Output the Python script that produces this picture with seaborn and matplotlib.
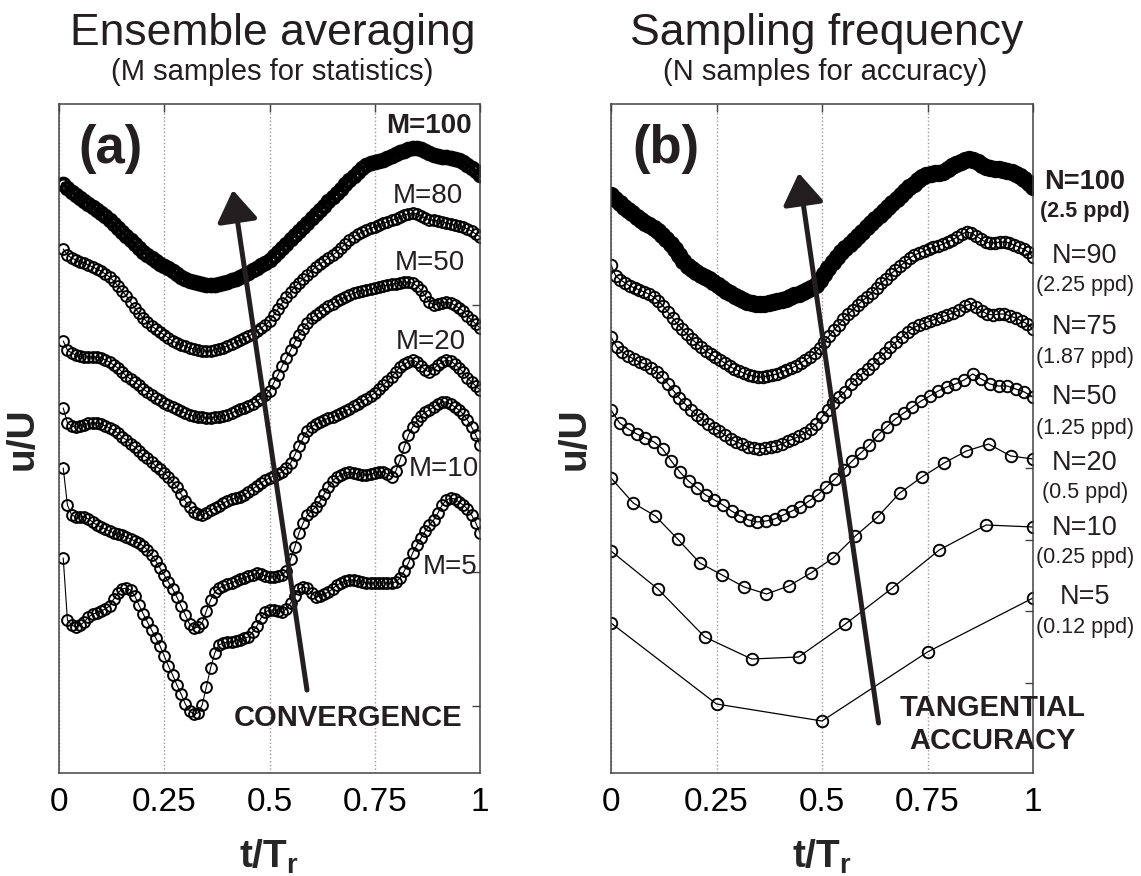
import numpy as np
import pandas as pd
import seaborn as sns
import matplotlib.pyplot as plt

sns.set_style("white")
plt.rcParams['font.family'] = ['Liberation Sans', 'DejaVu Sans']
plt.rcParams['mathtext.fontset'] = 'custom'
plt.rcParams['mathtext.rm'] = 'Liberation Sans'
plt.rcParams['mathtext.bf'] = 'Liberation Sans:bold'

INK = '#231f20'

# ---- (a) ensemble averaging: 100 samples over one period, curves stacked ----
t_ens = np.arange(1, 101) / 100

u_M100 = [5.89, 5.85, 5.81, 5.78, 5.75, 5.72, 5.69, 5.66, 5.63, 5.60,
          5.57, 5.53, 5.49, 5.45, 5.41, 5.37, 5.33, 5.29, 5.25, 5.21,
          5.18, 5.15, 5.12, 5.09, 5.07, 5.05, 5.02, 4.99, 4.96, 4.94,
          4.92, 4.91, 4.90, 4.89, 4.88, 4.88, 4.88, 4.89, 4.90, 4.91,
          4.93, 4.94, 4.96, 4.98, 5.00, 5.03, 5.05, 5.08, 5.10, 5.13,
          5.17, 5.21, 5.25, 5.29, 5.34, 5.38, 5.42, 5.46, 5.50, 5.55,
          5.59, 5.63, 5.67, 5.72, 5.76, 5.80, 5.84, 5.89, 5.93, 5.97,
          6.01, 6.05, 6.08, 6.10, 6.11, 6.12, 6.13, 6.15, 6.17, 6.19,
          6.21, 6.22, 6.24, 6.25, 6.25, 6.24, 6.22, 6.20, 6.18, 6.17,
          6.16, 6.16, 6.15, 6.14, 6.13, 6.11, 6.08, 6.05, 6.02, 5.98]

u_M80 = [5.24, 5.18, 5.15, 5.13, 5.11, 5.10, 5.08, 5.06, 5.04, 5.02,
         4.99, 4.96, 4.92, 4.87, 4.82, 4.77, 4.71, 4.65, 4.60, 4.55,
         4.51, 4.47, 4.44, 4.41, 4.38, 4.35, 4.32, 4.30, 4.28, 4.27,
         4.25, 4.24, 4.23, 4.22, 4.22, 4.22, 4.23, 4.24, 4.25, 4.27,
         4.29, 4.31, 4.33, 4.35, 4.37, 4.39, 4.42, 4.45, 4.48, 4.52,
         4.58, 4.64, 4.70, 4.76, 4.81, 4.86, 4.90, 4.94, 4.98, 5.02,
         5.06, 5.09, 5.12, 5.15, 5.18, 5.21, 5.25, 5.29, 5.33, 5.36,
         5.39, 5.41, 5.43, 5.45, 5.46, 5.48, 5.50, 5.51, 5.53, 5.54,
         5.56, 5.58, 5.59, 5.60, 5.59, 5.57, 5.55, 5.53, 5.53, 5.52,
         5.51, 5.50, 5.49, 5.48, 5.47, 5.46, 5.44, 5.42, 5.39, 5.36]

u_M50 = [4.32, 4.23, 4.20, 4.18, 4.17, 4.16, 4.16, 4.16, 4.16, 4.15,
         4.13, 4.11, 4.08, 4.05, 4.01, 3.97, 3.94, 3.91, 3.88, 3.84,
         3.81, 3.78, 3.75, 3.73, 3.70, 3.68, 3.66, 3.64, 3.62, 3.60,
         3.58, 3.57, 3.56, 3.56, 3.55, 3.55, 3.56, 3.56, 3.57, 3.58,
         3.60, 3.62, 3.64, 3.65, 3.67, 3.69, 3.72, 3.75, 3.78, 3.82,
         3.90, 3.98, 4.07, 4.15, 4.23, 4.31, 4.38, 4.44, 4.50, 4.55,
         4.58, 4.61, 4.64, 4.67, 4.69, 4.72, 4.74, 4.76, 4.78, 4.80,
         4.81, 4.82, 4.83, 4.84, 4.85, 4.86, 4.87, 4.88, 4.89, 4.89,
         4.90, 4.91, 4.91, 4.90, 4.87, 4.83, 4.77, 4.71, 4.68, 4.69,
         4.70, 4.71, 4.70, 4.68, 4.65, 4.62, 4.57, 4.53, 4.49, 4.45]

u_M20 = [3.65, 3.50, 3.47, 3.46, 3.47, 3.48, 3.50, 3.50, 3.50, 3.49,
         3.47, 3.45, 3.43, 3.40, 3.36, 3.33, 3.29, 3.26, 3.22, 3.18,
         3.15, 3.11, 3.07, 3.04, 3.00, 2.96, 2.91, 2.86, 2.79, 2.72,
         2.66, 2.61, 2.59, 2.58, 2.60, 2.63, 2.65, 2.67, 2.70, 2.72,
         2.74, 2.75, 2.76, 2.78, 2.81, 2.84, 2.87, 2.90, 2.93, 2.95,
         2.97, 2.99, 3.01, 3.05, 3.10, 3.18, 3.27, 3.35, 3.42, 3.46,
         3.49, 3.51, 3.53, 3.55, 3.56, 3.58, 3.60, 3.62, 3.64, 3.67,
         3.69, 3.72, 3.74, 3.77, 3.80, 3.84, 3.88, 3.92, 3.96, 4.01,
         4.06, 4.09, 4.11, 4.13, 4.11, 4.07, 4.03, 4.01, 4.04, 4.08,
         4.11, 4.13, 4.12, 4.09, 4.05, 4.01, 3.95, 3.91, 3.87, 3.83]

u_M10 = [3.05, 2.68, 2.58, 2.56, 2.56, 2.56, 2.54, 2.51, 2.48, 2.46,
         2.44, 2.42, 2.40, 2.39, 2.38, 2.36, 2.34, 2.32, 2.30, 2.27,
         2.23, 2.18, 2.12, 2.05, 1.98, 1.91, 1.84, 1.76, 1.67, 1.58,
         1.49, 1.45, 1.46, 1.50, 1.62, 1.73, 1.81, 1.85, 1.87, 1.89,
         1.90, 1.92, 1.94, 1.95, 1.97, 1.98, 2.00, 1.99, 1.97, 1.96,
         1.96, 1.97, 1.98, 2.02, 2.14, 2.26, 2.40, 2.50, 2.58, 2.62,
         2.66, 2.72, 2.79, 2.86, 2.92, 2.96, 2.98, 3.00, 3.01, 3.00,
         2.99, 2.98, 2.98, 2.99, 3.00, 3.01, 3.01, 2.99, 2.96, 3.02,
         3.13, 3.26, 3.38, 3.46, 3.52, 3.57, 3.61, 3.63, 3.66, 3.69,
         3.71, 3.71, 3.69, 3.66, 3.63, 3.59, 3.53, 3.46, 3.38, 3.28]

u_M5 = [2.15, 1.53, 1.48, 1.46, 1.48, 1.51, 1.56, 1.59, 1.60, 1.62,
        1.64, 1.67, 1.74, 1.80, 1.84, 1.85, 1.83, 1.77, 1.68, 1.59,
        1.51, 1.43, 1.35, 1.27, 1.17, 1.07, 0.98, 0.88, 0.79, 0.69,
        0.62, 0.59, 0.60, 0.68, 0.86, 1.05, 1.20, 1.28, 1.30, 1.31,
        1.31, 1.32, 1.33, 1.35, 1.36, 1.41, 1.47, 1.55, 1.61, 1.63,
        1.63, 1.62, 1.61, 1.64, 1.70, 1.77, 1.84, 1.86, 1.85, 1.80,
        1.76, 1.77, 1.79, 1.81, 1.84, 1.88, 1.90, 1.92, 1.93, 1.93,
        1.92, 1.91, 1.90, 1.90, 1.90, 1.90, 1.90, 1.90, 1.90, 1.91,
        1.95, 2.02, 2.10, 2.20, 2.28, 2.35, 2.42, 2.48, 2.53, 2.60,
        2.68, 2.73, 2.75, 2.74, 2.71, 2.68, 2.64, 2.58, 2.50, 2.40]

M_labels = ['M=100', 'M=80', 'M=50', 'M=20', 'M=10', 'M=5']
M_label_x = [0.879, 0.876, 0.881, 0.884, 0.915, 0.929]
M_label_y = [6.47, 5.77, 5.10, 4.31, 3.04, 2.06]

# ---- (b) sampling frequency: N samples over one period ----
u_N100 = [5.78, 5.74, 5.70, 5.66, 5.63, 5.60, 5.56, 5.53, 5.50, 5.48,
          5.45, 5.42, 5.38, 5.34, 5.29, 5.24, 5.18, 5.12, 5.07, 5.04,
          5.01, 4.98, 4.96, 4.94, 4.91, 4.88, 4.85, 4.82, 4.80, 4.77,
          4.75, 4.73, 4.71, 4.70, 4.69, 4.69, 4.69, 4.70, 4.71, 4.72,
          4.73, 4.74, 4.76, 4.78, 4.79, 4.81, 4.83, 4.85, 4.88, 4.93,
          4.99, 5.05, 5.11, 5.16, 5.21, 5.25, 5.29, 5.33, 5.37, 5.41,
          5.46, 5.50, 5.54, 5.58, 5.62, 5.66, 5.70, 5.74, 5.78, 5.82,
          5.86, 5.89, 5.93, 5.96, 5.98, 5.99, 6.00, 6.00, 6.01, 6.04,
          6.07, 6.09, 6.11, 6.13, 6.14, 6.13, 6.11, 6.08, 6.06, 6.05,
          6.04, 6.04, 6.03, 6.02, 6.01, 5.99, 5.97, 5.94, 5.90, 5.86]

u_N90 = [5.08, 4.97, 4.93, 4.90, 4.87, 4.85, 4.83, 4.81, 4.79, 4.76,
         4.72, 4.67, 4.61, 4.55, 4.49, 4.44, 4.39, 4.34, 4.30, 4.26,
         4.22, 4.19, 4.16, 4.13, 4.10, 4.07, 4.04, 4.02, 4.00, 3.98,
         3.97, 3.96, 3.96, 3.97, 3.98, 3.99, 4.01, 4.03, 4.05, 4.07,
         4.10, 4.13, 4.16, 4.20, 4.25, 4.31, 4.37, 4.43, 4.48, 4.54,
         4.59, 4.63, 4.68, 4.72, 4.76, 4.80, 4.85, 4.90, 4.94, 4.99,
         5.03, 5.07, 5.11, 5.15, 5.18, 5.20, 5.22, 5.24, 5.26, 5.27,
         5.29, 5.31, 5.33, 5.36, 5.39, 5.41, 5.40, 5.37, 5.34, 5.31,
         5.30, 5.30, 5.31, 5.31, 5.30, 5.28, 5.26, 5.24, 5.21, 5.16]

u_N75 = [4.36, 4.26, 4.21, 4.17, 4.14, 4.11, 4.09, 4.05, 4.01, 3.96,
         3.89, 3.82, 3.75, 3.69, 3.63, 3.58, 3.54, 3.49, 3.45, 3.42,
         3.38, 3.34, 3.31, 3.29, 3.26, 3.25, 3.24, 3.25, 3.26, 3.27,
         3.29, 3.32, 3.34, 3.37, 3.40, 3.44, 3.49, 3.56, 3.63, 3.70,
         3.76, 3.81, 3.89, 3.94, 3.99, 4.04, 4.09, 4.15, 4.20, 4.26,
         4.31, 4.36, 4.41, 4.45, 4.48, 4.50, 4.52, 4.54, 4.56, 4.58,
         4.60, 4.63, 4.67, 4.69, 4.66, 4.62, 4.59, 4.58, 4.59, 4.59,
         4.57, 4.55, 4.52, 4.49, 4.44]

u_N50 = [3.63, 3.50, 3.44, 3.39, 3.35, 3.31, 3.24, 3.12, 3.01, 2.92,
         2.85, 2.78, 2.73, 2.68, 2.62, 2.57, 2.53, 2.51, 2.52, 2.54,
         2.58, 2.62, 2.66, 2.72, 2.78, 2.86, 2.94, 3.03, 3.12, 3.20,
         3.28, 3.38, 3.46, 3.54, 3.60, 3.66, 3.72, 3.77, 3.82, 3.86,
         3.89, 3.93, 3.99, 3.94, 3.89, 3.87, 3.87, 3.84, 3.81, 3.76]

u_N20 = [2.95, 2.70, 2.57, 2.34, 2.10, 1.98, 1.86, 1.79, 1.87, 2.00,
         2.15, 2.37, 2.56, 2.80, 2.96, 3.10, 3.22, 3.29, 3.17, 3.14]

u_N10 = [2.22, 1.84, 1.36, 1.14, 1.16, 1.49, 1.85, 2.23, 2.48, 2.46]

u_N5 = [1.50, 0.69, 0.52, 1.21, 1.75]

N_labels = ['N=100', 'N=90', 'N=75', 'N=50', 'N=20', 'N=10', 'N=5']
ppd_labels = ['(2.5 ppd)', '(2.25 ppd)', '(1.87 ppd)', '(1.25 ppd)',
              '(0.5 ppd)', '(0.25 ppd)', '(0.12 ppd)']
N_label_y = [5.91, 5.17, 4.46, 3.76, 3.10, 2.45, 1.76]
ppd_label_y = [5.61, 4.88, 4.16, 3.45, 2.81, 2.15, 1.46]

ens = pd.concat([pd.DataFrame({'t': t_ens, 'u': u, 'M': m})
                 for m, u in zip([100, 80, 50, 20, 10, 5],
                                 [u_M100, u_M80, u_M50, u_M20, u_M10, u_M5])])
smp = pd.concat([pd.DataFrame({'t': np.linspace(0, 1, len(u)), 'u': u, 'N': len(u)})
                 for u in [u_N100, u_N90, u_N75, u_N50, u_N20, u_N10, u_N5]])

fig = plt.figure(figsize=(11.41, 8.76), dpi=100)
ax1 = fig.add_axes([59 / 1141, 1 - 773 / 876, 421 / 1141, 669 / 876])
ax2 = fig.add_axes([611 / 1141, 1 - 773 / 876, 422 / 1141, 669 / 876])


def curve(ax, d, ms, mew, lw):
    sns.lineplot(data=d, x='t', y='u', ax=ax, estimator=None, sort=False,
                 color='black', linewidth=lw, marker='o', markersize=ms,
                 mfc='none', mec='black', mew=mew)


for m, d in ens.groupby('M'):
    if m == 100:
        curve(ax1, d, 8.5, 2.8, 3)
    else:
        curve(ax1, d, 7.8, 1.4, 0.8)

for n, d in smp.groupby('N'):
    if n == 100:
        curve(ax2, d, 9, 3.5, 6)
    else:
        curve(ax2, d, 8.3, 1.35, 0.9)

for ax in (ax1, ax2):
    ax.set_xlim(0, 1)
    ax.set_ylim(0, 6.69)
    ax.set_xticks([0, 0.25, 0.5, 0.75, 1])
    ax.set_xticklabels(['0', '0.25', '0.5', '0.75', '1'])
    ax.tick_params(axis='both', direction='in', top=True, right=True,
                   length=6, width=1, color='#444444', labelsize=24,
                   labelcolor='black', labelleft=False, pad=10)
    ax.grid(axis='x', linestyle=':', color='#999999', linewidth=1)
    for sp in ax.spines.values():
        sp.set_color('#444444')
        sp.set_linewidth(1.1)
    ax.set_xlabel(r'$\mathbf{t/T}_\mathbf{r}$', fontsize=28, labelpad=14)
    ax.set_ylabel('u/U', fontsize=28, fontweight='bold', labelpad=13)

ax1.set_yticks(0.67 + 1.338 * np.arange(5))
ax2.set_yticks(0.903 + 0.716 * np.arange(8))

# titles
ax1.text(0.508, 1.088, 'Ensemble averaging', transform=ax1.transAxes,
         ha='center', va='baseline', fontsize=32, color=INK)
ax1.text(0.507, 1.036, '(M samples for statistics)', transform=ax1.transAxes,
         ha='center', va='baseline', fontsize=21, color=INK)
ax2.text(0.512, 1.088, 'Sampling frequency', transform=ax2.transAxes,
         ha='center', va='baseline', fontsize=32, color=INK)
ax2.text(0.508, 1.036, '(N samples for accuracy)', transform=ax2.transAxes,
         ha='center', va='baseline', fontsize=21, color=INK)

ax1.text(0.122, 6.24, '(a)', fontsize=38, fontweight='bold', ha='center',
         va='center', color=INK)
ax2.text(0.129, 6.24, '(b)', fontsize=38, fontweight='bold', ha='center',
         va='center', color=INK)

for i, (lab, x, y) in enumerate(zip(M_labels, M_label_x, M_label_y)):
    ax1.text(x, y, lab, fontsize=20, ha='center', va='center', color=INK,
             fontweight='bold' if i == 0 else 'normal')

for i, (lab, y) in enumerate(zip(N_labels, N_label_y)):
    ax2.text(1.123, y, lab, fontsize=19.5, ha='center', va='center', color=INK,
             fontweight='bold' if i == 0 else 'normal', clip_on=False)
for i, (lab, y) in enumerate(zip(ppd_labels, ppd_label_y)):
    ax2.text(1.123, y, lab, fontsize=15.5, ha='center', va='center', color=INK,
             fontweight='bold' if i == 0 else 'normal', clip_on=False)

arrow = dict(arrowstyle='-|>,head_length=1.9,head_width=1.25', mutation_scale=10,
             lw=3.6, color=INK, shrinkA=0, shrinkB=0)
ax1.annotate('', xy=(0.413, 5.83), xytext=(0.589, 0.83), arrowprops=arrow)
ax2.annotate('', xy=(0.445, 6.00), xytext=(0.634, 0.50), arrowprops=arrow)

ax1.text(0.686, 0.55, 'CONVERGENCE', fontsize=21, fontweight='bold',
         ha='center', va='center', color=INK)
ax2.text(0.905, 0.655, 'TANGENTIAL', fontsize=21, fontweight='bold',
         ha='center', va='center', color=INK)
ax2.text(0.905, 0.32, 'ACCURACY', fontsize=21, fontweight='bold',
         ha='center', va='center', color=INK)

fig.savefig('out.png', dpi=100)
